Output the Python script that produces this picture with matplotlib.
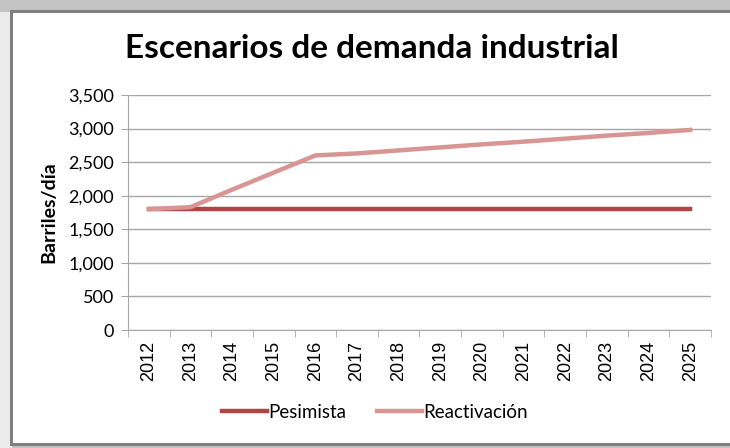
import matplotlib
matplotlib.use("Agg")
import matplotlib.pyplot as plt
from matplotlib.patches import Rectangle

years = [str(y) for y in range(2012, 2026)]
pesimista = [1800] * 14
reactivacion = [1800, 1830, 2090, 2345, 2600, 2630, 2675, 2720, 2765, 2805, 2850, 2895, 2935, 2980]

DARK, LIGHT, GRID = "#b04545", "#d99594", "#a6a6a6"
plt.rcParams.update({"font.family": "Lato"})

W, H = 730, 448
fig = plt.figure(figsize=(W / 100, H / 100), dpi=100)
fig.patch.set_facecolor("#c4c4c4")
# light side panel and white chart area with dark frame
fig.patches.append(Rectangle((0, 0), 12 / W, 1 - 12 / H, transform=fig.transFigure,
                             facecolor="#ececec", edgecolor="none", zorder=-3))
fig.patches.append(Rectangle((11 / W, 4 / H), 1, 1 - 15 / H, transform=fig.transFigure,
                             facecolor="white", edgecolor="#7f7f7f", lw=2.2, zorder=-2))

ax = fig.add_axes([128 / W, 1 - 330 / H, (711 - 128) / W, (330 - 95) / H])
ax.set_facecolor("white")
x = range(len(years))
ax.plot(x, pesimista, color=DARK, lw=3.2, label="Pesimista", zorder=3)
ax.plot(x, reactivacion, color=LIGHT, lw=3.2, label="Reactivación", zorder=3)

ax.set_xlim(-0.5, len(years) - 0.5)
ax.set_ylim(0, 3500)
ax.set_yticks(range(0, 3501, 500))
ax.set_yticklabels([f"{v:,}" for v in range(0, 3501, 500)], fontsize=13)
ax.set_xticks(list(x))
ax.set_xticklabels(years, rotation=90, fontsize=13, family="Liberation Sans")
ax.set_xticks([i - 0.5 for i in range(len(years) + 1)], minor=True)
ax.tick_params(axis="x", which="major", length=0, pad=8)
ax.tick_params(axis="x", which="minor", length=5, color=GRID)
ax.tick_params(axis="y", length=5, color=GRID, pad=5)
ax.grid(axis="y", color=GRID, lw=1)
ax.set_axisbelow(True)
for s in ("top", "right"):
    ax.spines[s].set_visible(False)
for s in ("left", "bottom"):
    ax.spines[s].set_color(GRID)

ax.set_ylabel("Barriles/día", fontsize=14, fontweight="bold", labelpad=8)
fig.text(372 / W, 1 - 48 / H, "Escenarios de demanda industrial", ha="center", va="center",
         fontsize=24, fontweight="bold")
fig.legend(loc="center", bbox_to_anchor=(375 / W, 1 - 412 / H), ncol=2, frameon=False,
           fontsize=13.5, handlelength=2.4, columnspacing=1.6, handletextpad=0.1)

fig.savefig("out.png", dpi=100, facecolor=fig.get_facecolor())
